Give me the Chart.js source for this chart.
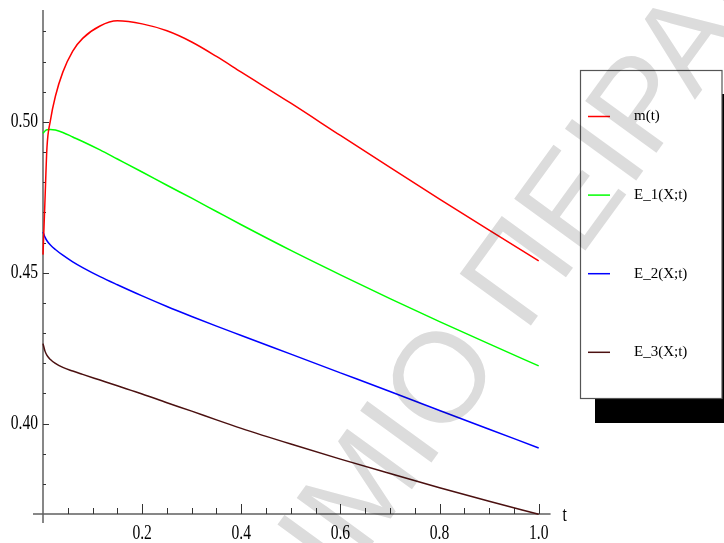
<html>
<head>
<meta charset="UTF-8">
<title>m(t) and E_k(X;t)</title>
<script src="https://cdn.jsdelivr.net/npm/chart.js"></script>
<style>
  body { margin: 0; background: #fff; }
  canvas { display: block; }
</style>
</head>
<body>
<canvas id="plot" width="724" height="543"></canvas>
<script>
// values
const tValues = [0, 0.004, 0.008, 0.015, 0.025, 0.04, 0.06, 0.08, 0.115, 0.15, 0.2, 0.25, 0.3, 0.35, 0.4, 0.5, 0.6, 0.7, 0.8, 0.9, 1.0];
const mT  = [0.456, 0.474, 0.4915, 0.5005, 0.5085, 0.5165, 0.5235, 0.5277, 0.5318, 0.5335, 0.5325, 0.5302, 0.5265, 0.5217, 0.5165, 0.5062, 0.4955, 0.4849, 0.4744, 0.4641, 0.4539];
const e1T = [0.4962, 0.4970, 0.4974, 0.4975, 0.4973, 0.4965, 0.4950, 0.4935, 0.4907, 0.4877, 0.4834, 0.4790, 0.4747, 0.4703, 0.4659, 0.4574, 0.4493, 0.4414, 0.4338, 0.4264, 0.4191];
const e2T = [0.4635, 0.4618, 0.4606, 0.4592, 0.4577, 0.4558, 0.4536, 0.4517, 0.4487, 0.4460, 0.4423, 0.4388, 0.4355, 0.4323, 0.4292, 0.4230, 0.4168, 0.4106, 0.4043, 0.3981, 0.3919];
const e3T = [0.4265, 0.4240, 0.4226, 0.4212, 0.4199, 0.4186, 0.4174, 0.4163, 0.4144, 0.4125, 0.4098, 0.4069, 0.4041, 0.4012, 0.3984, 0.3932, 0.3882, 0.3834, 0.3787, 0.3742, 0.3699];
const seriesNames = ['m(t)', 'E_1(X;t)', 'E_2(X;t)', 'E_3(X;t)'];
const seriesColors = ['#ff0000', '#00ff00', '#0000ff', '#4b1010'];
const xTickLabels = ['0.2', '0.4', '0.6', '0.8', '1.0'];
const yTickLabels = ['0.40', '0.45', '0.50'];

function pts(vals) {
  return tValues.map((t, i) => ({ x: t, y: vals[i] }));
}

const allSeries = [mT, e1T, e2T, e3T];
const datasets = allSeries.map((vals, i) => ({
  label: seriesNames[i],
  data: pts(vals),
  borderColor: seriesColors[i],
  borderWidth: 1.5,
  pointRadius: 0,
  fill: false,
  cubicInterpolationMode: 'monotone',
  clip: false
}));

const AXIS_FONT = '20px "Liberation Serif"';

// draws axes the Maple way: ticks pointing into the plot
const maplePlot = {
  id: 'maplePlot',
  beforeDatasetsDraw(chart) {
    const ctx = chart.ctx;
    const xs = chart.scales.x, ys = chart.scales.y;
    const x0 = xs.getPixelForValue(0), y0 = ys.getPixelForValue(ys.min);
    ctx.save();
    ctx.strokeStyle = '#606060';
    ctx.lineWidth = 1.5;
    ctx.beginPath();
    ctx.moveTo(x0, ys.getPixelForValue(ys.max));
    ctx.lineTo(x0, y0 + 9);
    ctx.moveTo(x0 - 10, y0);
    ctx.lineTo(xs.getPixelForValue(1.024), y0);
    ctx.stroke();

    ctx.strokeStyle = '#333';
    ctx.lineWidth = 1;
    ctx.beginPath();
    for (let k = 38; k <= 53; k++) {
      const v = k / 100;
      const py = Math.round(ys.getPixelForValue(v)) + 0.5;
      const len = (k % 5 === 0) ? 6 : 3;
      ctx.moveTo(x0, py);
      ctx.lineTo(x0 + len, py);
    }
    for (let k = 1; k <= 20; k++) {
      const px = Math.round(xs.getPixelForValue(k * 0.05)) + 0.5;
      const len = (k % 4 === 0) ? 10 : 6;
      ctx.moveTo(px, y0);
      ctx.lineTo(px, y0 - len);
    }
    ctx.stroke();

    ctx.fillStyle = '#000';
    ctx.font = AXIS_FONT;
    ctx.textBaseline = 'middle';
    yTickLabels.forEach(lbl => {
      const py = ys.getPixelForValue(parseFloat(lbl));
      ctx.save();
      ctx.translate(x0 - 5, py);
      ctx.scale(0.78, 1);
      ctx.textAlign = 'right';
      ctx.fillText(lbl, 0, 0);
      ctx.restore();
    });
    xTickLabels.forEach(lbl => {
      const px = xs.getPixelForValue(parseFloat(lbl));
      ctx.save();
      ctx.translate(px, y0 + 20);
      ctx.scale(0.78, 1);
      ctx.textAlign = 'center';
      ctx.fillText(lbl, 0, 0);
      ctx.restore();
    });
    ctx.save();
    ctx.translate(xs.getPixelForValue(1.024) + 12, y0 + 2);
    ctx.scale(0.78, 1);
    ctx.textAlign = 'left';
    ctx.fillText('t', 0, 0);
    ctx.restore();

    // legend box with its shadow
    ctx.fillStyle = '#000';
    ctx.fillRect(595, 94, 142, 329);
    ctx.fillStyle = '#fff';
    ctx.fillRect(580.5, 70.5, 141.5, 328);
    ctx.strokeStyle = '#555';
    ctx.lineWidth = 1.2;
    ctx.strokeRect(580.5, 70.5, 141.5, 328);
    ctx.font = '15px "Liberation Serif"';
    ctx.textAlign = 'left';
    chart.data.datasets.forEach((ds, i) => {
      const ly = 116.5 + i * 78.6;
      ctx.strokeStyle = ds.borderColor;
      ctx.lineWidth = 1.5;
      ctx.beginPath();
      ctx.moveTo(588, ly);
      ctx.lineTo(610, ly);
      ctx.stroke();
      ctx.fillStyle = '#000';
      ctx.fillText(ds.label, 634, ly);
    });
    ctx.restore();
  },
  afterDraw(chart) {
    // faint watermark laid over everything
    const ctx = chart.ctx;
    ctx.save();
    ctx.globalCompositeOperation = 'multiply';
    ctx.fillStyle = '#dcdcdc';
    ctx.font = '128px "Liberation Sans"';
    ctx.textBaseline = 'alphabetic';
    ctx.translate(524.8, 333.9);
    ctx.rotate(-54 * Math.PI / 180);
    ctx.textAlign = 'left';
    ctx.fillText('ΠΕΙΡΑΙΩΣ', 0, 0);
    ctx.textAlign = 'right';
    ctx.fillText('ΠΑΝΕΠΙΣΤΗΜΙΟ ', 0, 0);
    ctx.restore();
  }
};

new Chart(document.getElementById('plot').getContext('2d'), {
  type: 'line',
  data: { datasets: datasets },
  options: {
    responsive: false,
    animation: false,
    devicePixelRatio: 1,
    layout: { padding: { left: 43, right: 185.3, top: 10, bottom: 29 } },
    plugins: { legend: { display: false }, tooltip: { enabled: false } },
    scales: {
      x: { type: 'linear', min: 0, max: 1, display: false },
      y: { type: 'linear', min: 0.37, max: 0.5371, display: false }
    }
  },
  plugins: [maplePlot]
});
</script>
</body>
</html>
